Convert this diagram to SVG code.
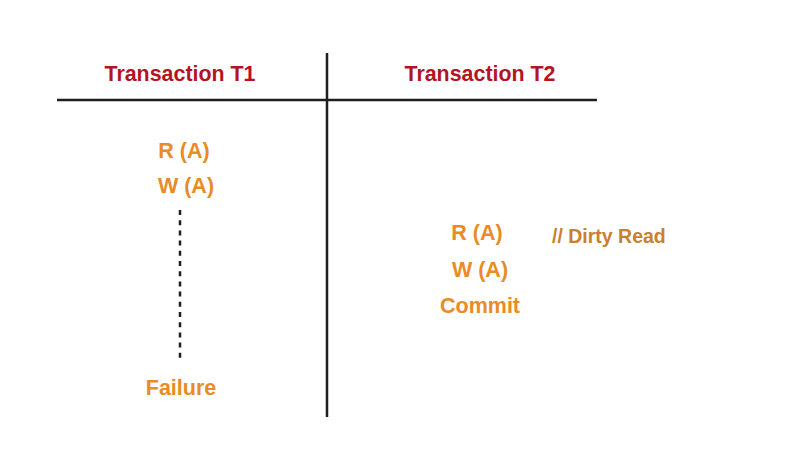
<svg xmlns="http://www.w3.org/2000/svg" width="810" height="456" viewBox="0 0 810 456">
<style>
.t{font-family:"Liberation Sans",Arial,sans-serif;font-weight:bold;text-anchor:middle}
.h{fill:#b3141f;font-size:21.4px}
.o{fill:#e98b26;font-size:21.5px}
.d{fill:#c9802f;font-size:19.5px;text-anchor:start}
.ln{stroke:#1e1e1e;stroke-width:2.5;fill:none}
</style>
<rect width="810" height="456" fill="#ffffff"/>
<g id="connectors">
<line class="ln" x1="57" y1="100" x2="597" y2="100"/>
<line class="ln" x1="327" y1="53" x2="327" y2="417"/>
<line x1="180" y1="210" x2="180" y2="359" stroke="#1e1e1e" stroke-width="2.5" stroke-dasharray="5,5.2"/>
</g>
<g id="header-t1"><text class="t h" x="180" y="81">Transaction T1</text></g>
<g id="header-t2"><text class="t h" x="480" y="81">Transaction T2</text></g>
<g id="t1-ra"><text class="t o" x="184" y="158">R (A)</text></g>
<g id="t1-wa"><text class="t o" x="186" y="193">W (A)</text></g>
<g id="t1-failure"><text class="t o" x="181" y="395">Failure</text></g>
<g id="t2-ra"><text class="t o" x="477" y="240">R (A)</text></g>
<g id="t2-wa"><text class="t o" x="480" y="277">W (A)</text></g>
<g id="t2-commit"><text class="t o" x="480" y="313">Commit</text></g>
<g id="dirty-read"><text class="t d" x="552" y="243">// Dirty Read</text></g>
</svg>
